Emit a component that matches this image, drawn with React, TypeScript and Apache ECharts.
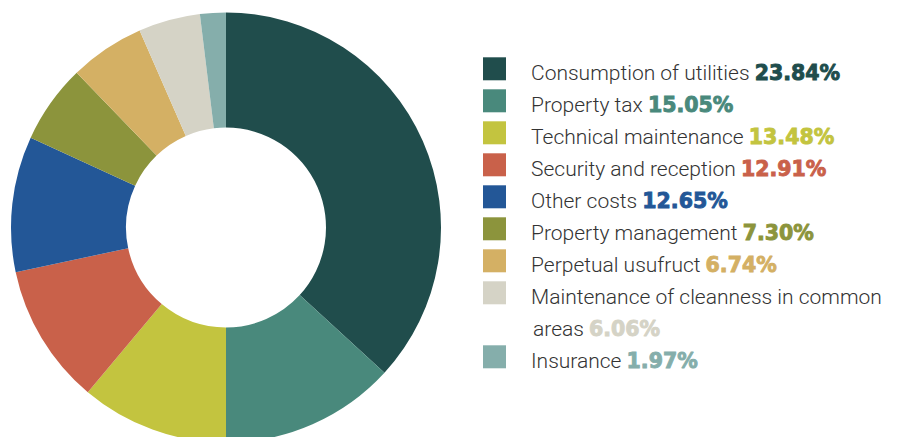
import React, { useEffect, useRef } from "react";
import * as echarts from "echarts";

// Categories, in drawing order (clockwise from 12 o'clock)
const categories = [
  "Consumption of utilities",
  "Property tax",
  "Technical maintenance",
  "Security and reception",
  "Other costs",
  "Property management",
  "Perpetual usufruct",
  "Maintenance of cleanness in common areas",
  "Insurance",
];

// Percent labels as printed in the legend
const labelPercents = ["23.84%", "15.05%", "13.48%", "12.91%", "12.65%", "7.30%", "6.74%", "6.06%", "1.97%"];

// Slice shares as drawn in the picture
const sliceShares = [36.81, 13.19, 11.11, 10.56, 10.19, 5.92, 5.64, 4.64, 1.94];

const colors = ["#204d4c", "#49897c", "#c3c43f", "#c9614a", "#235797", "#8c943c", "#d4b064", "#d5d3c6", "#85aeab"];

const NAME_FONT = "Roboto";
const PCT_FONT = "DejaVu Sans";

function makeRich(lineHeight: number) {
  const rich: Record<string, any> = {
    n: { fontFamily: NAME_FONT, fontWeight: 300, fontSize: 21, color: "#333333", lineHeight },
    a: { fontFamily: NAME_FONT, fontWeight: 300, fontSize: 21, color: "#333333", lineHeight, padding: [0, 0, 0, 2] },
  };
  colors.forEach((c, i) => {
    rich["p" + i] = {
      fontFamily: PCT_FONT,
      fontWeight: "bold",
      fontSize: 20.5,
      color: c,
      textBorderColor: c,
      textBorderWidth: 0.9,
      lineHeight,
    };
  });
  return rich;
}

function legendText(name: string) {
  const i = categories.indexOf(name);
  if (i === 7) {
    const words = name.split(" ");
    const last = words.pop();
    return `{n|${words.join(" ")}}\n{a|${last}} {p${i}|${labelPercents[i]}}`;
  }
  return `{n|${name}} {p${i}|${labelPercents[i]}}`;
}

export default function App() {
  const ref = useRef<HTMLDivElement>(null);
  useEffect(() => {
    document.body.style.margin = "0";
    if (!ref.current) return;
    const chart = echarts.init(ref.current, undefined, { renderer: "svg" });
    const baseLegend = {
      orient: "vertical",
      left: 483,
      padding: 0,
      itemGap: 0,
      itemWidth: 23,
      itemHeight: 23,
      icon: "rect",
      selectedMode: false,
      itemStyle: { borderWidth: 0 },
      formatter: legendText,
    };
    chart.setOption({
      animation: false,
      color: colors,
      legend: [
        {
          ...baseLegend,
          top: 52.8,
          data: categories.slice(0, 7),
          textStyle: {
            fontFamily: NAME_FONT,
            fontWeight: 300,
            fontSize: 21,
            color: "#333333",
            lineHeight: 24,
            padding: [8, 0, 0, 20],
            rich: makeRich(24),
          },
        },
        {
          ...baseLegend,
          top: 240.8,
          data: [categories[7]],
          textStyle: {
            fontFamily: NAME_FONT,
            fontWeight: 300,
            fontSize: 21,
            color: "#333333",
            lineHeight: 32,
            padding: [40, 0, 0, 20],
            rich: makeRich(32),
          },
        },
        {
          ...baseLegend,
          top: 340.8,
          data: [categories[8]],
          textStyle: {
            fontFamily: NAME_FONT,
            fontWeight: 300,
            fontSize: 21,
            color: "#333333",
            lineHeight: 24,
            padding: [8, 0, 0, 20],
            rich: makeRich(24),
          },
        },
      ],
      series: [
        {
          type: "pie",
          center: [226, 227.5],
          radius: [100, 215],
          startAngle: 90,
          clockwise: true,
          label: { show: false },
          labelLine: { show: false },
          emphasis: { disabled: true },
          itemStyle: { borderWidth: 0 },
          data: categories.map((name, i) => ({ name, value: sliceShares[i] })),
        },
      ],
    });
    return () => chart.dispose();
  }, []);
  return <div ref={ref} style={{ width: 904, height: 437 }} />;
}
